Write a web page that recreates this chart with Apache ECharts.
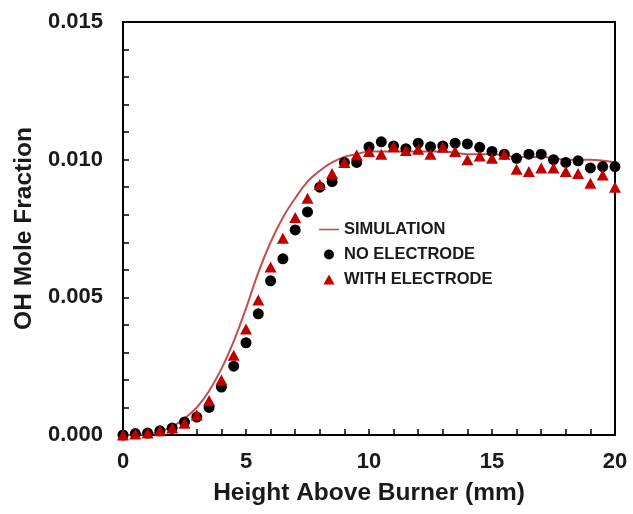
<!DOCTYPE html>
<html>
<head>
<meta charset="utf-8">
<script src="https://cdn.jsdelivr.net/npm/echarts@6/dist/echarts.min.js"></script>
<style>
  html, body { margin: 0; padding: 0; background: #fff; }
  #chart { width: 633px; height: 514px; }
</style>
</head>
<body>
<div id="chart"></div>
<script>
// height above burner (mm), every 0.5 mm
var heights = [0, 0.5, 1, 1.5, 2, 2.5, 3, 3.5, 4, 4.5, 5, 5.5, 6, 6.5, 7, 7.5, 8, 8.5, 9, 9.5,
  10, 10.5, 11, 11.5, 12, 12.5, 13, 13.5, 14, 14.5, 15, 15.5, 16, 16.5, 17, 17.5, 18, 18.5, 19, 19.5, 20];

var noElectrode = [0.0000, 0.00005, 0.00007, 0.00015, 0.00025, 0.00047, 0.00065, 0.0010, 0.00174, 0.0025,
  0.00335, 0.0044, 0.0056, 0.0064, 0.00745, 0.0081, 0.0090, 0.0092, 0.0099, 0.0099,
  0.01046, 0.01065, 0.0105, 0.0104, 0.0106, 0.01047, 0.0105, 0.0106, 0.01057, 0.01045,
  0.0103, 0.0102, 0.01005, 0.0102, 0.0102, 0.0100, 0.0099, 0.00996, 0.0097, 0.00975, 0.00975];

var withElectrode = [0.0000, 0.00004, 0.00007, 0.00015, 0.00025, 0.00043, 0.00073, 0.00125, 0.0020, 0.0029,
  0.00385, 0.0049, 0.0061, 0.00715, 0.0079, 0.0086, 0.0091, 0.0095, 0.0099, 0.01017,
  0.0103, 0.0102, 0.01047, 0.01033, 0.01038, 0.0102, 0.01045, 0.0103, 0.0100, 0.01013,
  0.01005, 0.0102, 0.00965, 0.00957, 0.0097, 0.0097, 0.00957, 0.0095, 0.00914, 0.00944, 0.0090];

var simX = [0, 1, 1.5, 2, 2.5, 3, 3.5, 4, 4.5, 5, 5.5, 6, 6.5, 7, 7.5, 8, 8.5, 9, 9.5, 10, 11, 12, 13, 14, 15, 16, 17, 18, 19, 20];
var simY = [0.0000, 0.00003, 0.00012, 0.0003, 0.0006, 0.0010, 0.0016, 0.0024, 0.0034, 0.0046, 0.0059, 0.0070, 0.0079,
  0.0086, 0.0092, 0.0096, 0.0099, 0.0101, 0.0102, 0.0103, 0.0103, 0.0103, 0.0103, 0.0102, 0.0102, 0.0101, 0.0101, 0.0100, 0.0100, 0.0099];

var yTicks = ['0.000', '0.005', '0.010', '0.015'];

function pairs(xs, ys) {
  return xs.map(function (x, i) { return [x, ys[i]]; });
}

var font = 'Liberation Sans, Arial, sans-serif';
var chart = echarts.init(document.getElementById('chart'));

var option = {
  backgroundColor: '#fff',
  animation: false,
  grid: {
    left: 123, right: 18, top: 22, bottom: 79,
    show: true, borderColor: '#000', borderWidth: 2
  },
  legend: {
    orient: 'vertical',
    left: 319, top: 221, padding: 0,
    itemWidth: 20, itemHeight: 10, itemGap: 8,
    textStyle: { fontFamily: font, fontWeight: 'bold', fontSize: 16.5, color: '#1a1a1a' },
    data: [
      { name: 'SIMULATION', icon: 'path://M0,0 L20,0 L20,1.6 L0,1.6 Z' },
      { name: 'NO ELECTRODE', icon: 'circle' },
      { name: 'WITH ELECTRODE', icon: 'path://M5,0 L10,9 L0,9 Z' }
    ]
  },
  xAxis: {
    type: 'value', min: 0, max: 20, interval: 5,
    name: 'Height Above Burner (mm)', nameLocation: 'middle', nameGap: 46,
    nameTextStyle: { fontFamily: font, fontWeight: 'bold', fontSize: 24.5, color: '#1a1a1a' },
    axisLine: { show: true, lineStyle: { color: '#000', width: 2 } },
    axisTick: { show: true, inside: true, length: 6, lineStyle: { color: '#000', width: 1.5 } },
    minorTick: { show: true, splitNumber: 5, length: 6, lineStyle: { color: '#000', width: 1.5 } },
    axisLabel: { fontFamily: font, fontWeight: 'bold', fontSize: 22, color: '#1a1a1a', margin: 16 },
    splitLine: { show: false }
  },
  yAxis: {
    type: 'value', min: 0, max: 0.015, interval: 0.005,
    name: 'OH Mole Fraction', nameLocation: 'middle', nameGap: 86,
    nameTextStyle: { fontFamily: font, fontWeight: 'bold', fontSize: 24.5, color: '#1a1a1a' },
    axisLine: { show: true, lineStyle: { color: '#000', width: 2 } },
    axisTick: { show: true, inside: true, length: 6, lineStyle: { color: '#000', width: 1.5 } },
    minorTick: { show: true, splitNumber: 5, length: 6, lineStyle: { color: '#000', width: 1.5 } },
    axisLabel: {
      fontFamily: font, fontWeight: 'bold', fontSize: 22, color: '#1a1a1a', margin: 20,
      formatter: function (v) { return yTicks[Math.round(v / 0.005)]; }
    },
    splitLine: { show: false }
  },
  series: [
    {
      name: 'SIMULATION', type: 'line', smooth: 0.4, showSymbol: false, symbol: 'none',
      data: pairs(simX, simY),
      lineStyle: { color: '#c0504d', width: 2 },
      itemStyle: { color: '#c0504d' },
      z: 1
    },
    {
      name: 'NO ELECTRODE', type: 'scatter', symbol: 'circle', symbolSize: 11,
      data: pairs(heights, noElectrode),
      itemStyle: { color: '#000', opacity: 1 },
      z: 2
    },
    {
      name: 'WITH ELECTRODE', type: 'scatter', symbol: 'triangle', symbolSize: [12, 11],
      data: pairs(heights, withElectrode),
      itemStyle: { color: '#c00000', opacity: 1 },
      z: 3
    }
  ]
};

chart.setOption(option);
</script>
</body>
</html>
